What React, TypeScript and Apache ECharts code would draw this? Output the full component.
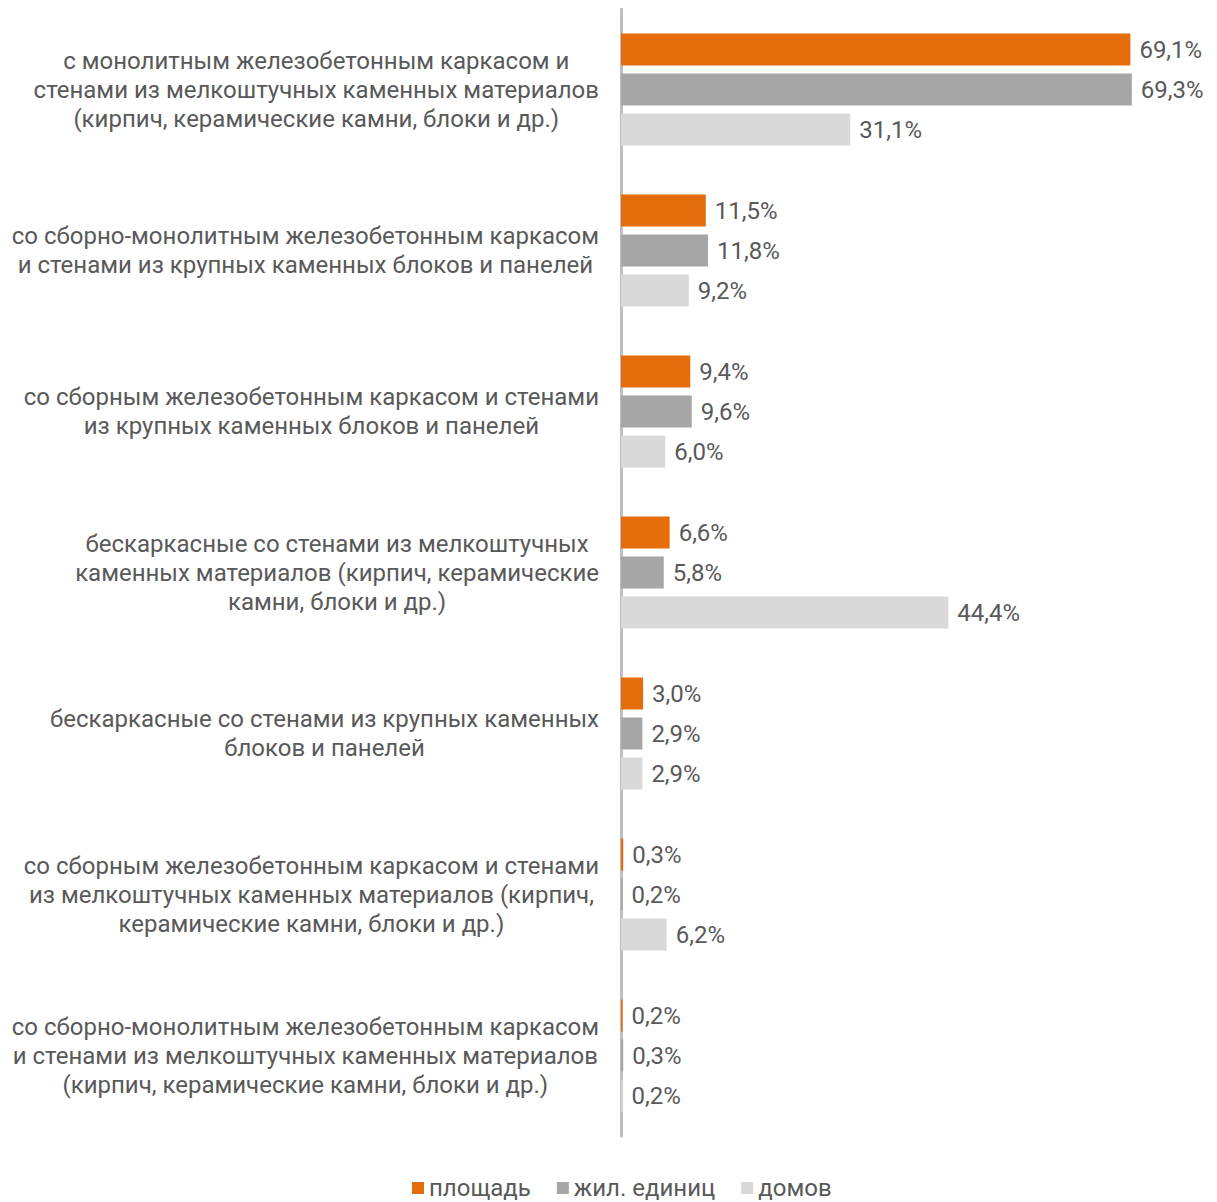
import React, { useEffect, useRef } from "react";
import * as echarts from "echarts";

const categories = [
  "с монолитным железобетонным каркасом и\nстенами из мелкоштучных каменных материалов\n(кирпич, керамические камни, блоки и др.)",
  "со сборно-монолитным железобетонным каркасом\nи стенами из крупных каменных блоков и панелей",
  "со сборным железобетонным каркасом и стенами\nиз крупных каменных блоков и панелей",
  "бескаркасные со стенами из мелкоштучных\nкаменных материалов (кирпич, керамические\nкамни, блоки и др.)",
  "бескаркасные со стенами из крупных каменных\nблоков и панелей",
  "со сборным железобетонным каркасом и стенами\nиз мелкоштучных каменных материалов (кирпич,\nкерамические камни, блоки и др.)",
  "со сборно-монолитным железобетонным каркасом\nи стенами из мелкоштучных каменных материалов\n(кирпич, керамические камни, блоки и др.)",
];

const seriesNames = ["площадь", "жил. единиц", "домов"];
const areaValues = [69.1, 11.5, 9.4, 6.6, 3.0, 0.3, 0.2];
const unitValues = [69.3, 11.8, 9.6, 5.8, 2.9, 0.2, 0.3];
const houseValues = [31.1, 9.2, 6.0, 44.4, 2.9, 6.2, 0.2];
const colors = ["#E46C0A", "#A6A6A6", "#D9D9D9"];

const FONT = "Roboto";
const TEXT = "#595959";
const FS = 24;

export default function App() {
  const ref = useRef<HTMLDivElement>(null);
  useEffect(() => {
    document.body.style.overflow = "hidden";
    const chart = echarts.init(ref.current!, undefined, { renderer: "svg" });
    const fmt = (p: any) => p.value.toFixed(1).replace(".", ",") + "%";
    const mk = (name: string, data: number[], color: string) => ({
      name,
      type: "bar",
      data,
      barWidth: 32,
      barGap: "25%",
      itemStyle: { color },
      label: {
        show: true,
        position: "right",
        distance: 9,
        formatter: fmt,
        color: TEXT,
        fontSize: FS,
        fontFamily: FONT,
      },
    });
    chart.setOption({
      animation: false,
      grid: { left: 613, top: 1, width: 575, height: 1127, containLabel: false },
      legend: {
        data: seriesNames,
        left: 399,
        top: 1163,
        itemWidth: 12,
        itemHeight: 12,
        itemGap: 26,
        icon: "rect",
        textStyle: { color: TEXT, fontSize: FS, fontFamily: FONT },
      },
      xAxis: {
        type: "value",
        min: 0,
        max: 78,
        show: false,
        splitLine: { show: false },
      },
      yAxis: {
        type: "category",
        data: categories,
        inverse: true,
        axisTick: { show: false },
        axisLine: { show: true, lineStyle: { color: "#BFBFBF", width: 3 } },
        axisLabel: {
          margin: 22,
          formatter: (v: string) =>
            v
              .split("\n")
              .map((l) => `{c|${l}}`)
              .join("\n"),
          rich: {
            c: {
              align: "center",
              color: TEXT,
              fontSize: FS,
              lineHeight: 29,
              fontFamily: FONT,
            },
          },
        },
      },
      series: [
        mk(seriesNames[0], areaValues, colors[0]),
        mk(seriesNames[1], unitValues, colors[1]),
        mk(seriesNames[2], houseValues, colors[2]),
      ],
    });
    return () => chart.dispose();
  }, []);
  return <div ref={ref} style={{ width: 1201, height: 1194 }} />;
}
